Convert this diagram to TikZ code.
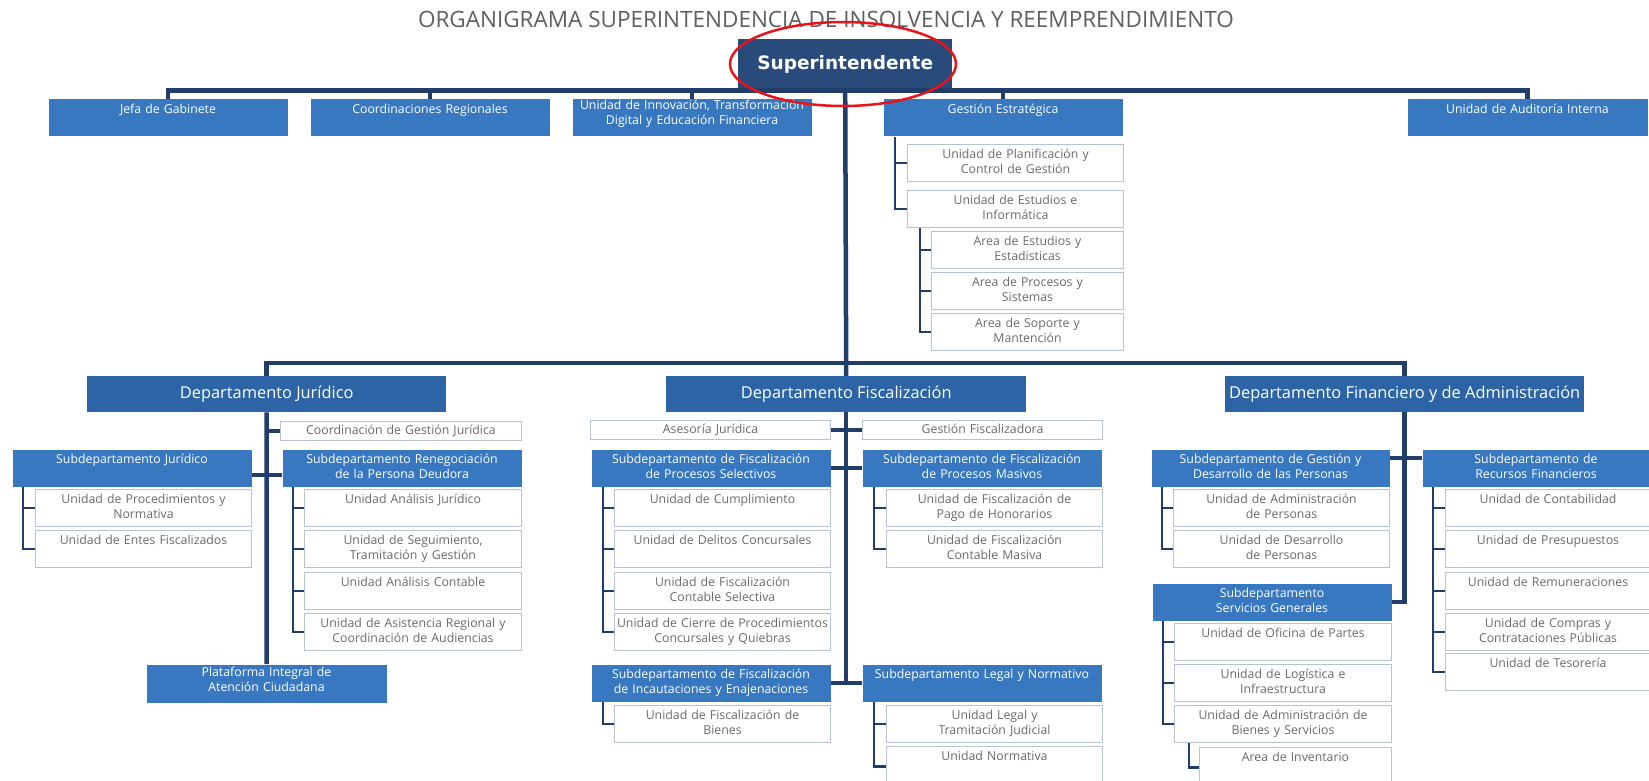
\documentclass[tikz,border=0pt]{standalone}
\usepackage{fontspec}
\setmainfont{Open Sans}
\newfontfamily\headfont{DejaVu Sans}
\definecolor{navy}{HTML}{213E6B}
\definecolor{supblue}{HTML}{284B7C}
\definecolor{deptblue}{HTML}{2D64A6}
\definecolor{subblue}{HTML}{3878C0}
\definecolor{boxline}{HTML}{B8C2CE}
\definecolor{txtgray}{HTML}{6A6A6A}
\definecolor{titlegray}{HTML}{606060}
\definecolor{ringred}{HTML}{E8141B}

\begin{document}
\begin{tikzpicture}[x=1pt,y=-1pt,
ubox/.style={draw=boxline,line width=1pt,fill=white,text=txtgray,anchor=north west,inner sep=0pt,align=center,text width=#1,text height=14pt,text depth=23pt,font=\fontsize{12.3}{15}\selectfont},
sbox/.style={ubox=#1,draw=none,fill=subblue,text=white},
dbox/.style={fill=deptblue,text=white,anchor=north west,inner sep=0pt,minimum width=#1,minimum height=36pt,font=\fontsize{16.4}{20}\selectfont},
slim/.style={text height=13pt,text depth=6pt},
bar/.style={draw=navy,line width=4.5pt},
tie/.style={draw=navy,line width=2.5pt}]
\useasboundingbox[fill=white] (0,0) rectangle (1649,781);
\node[font=\fontsize{22.5}{26}\selectfont,text=titlegray] (title) at (826,19) {ORGANIGRAMA SUPERINTENDENCIA DE INSOLVENCIA Y REEMPRENDIMIENTO};
\node[dbox=214,fill=supblue,minimum height=51pt,font=\headfont\bfseries\fontsize{18.5}{22}\selectfont] (sup) at (738,39) {Superintendente};
% primera linea
\node[sbox=239] (jefa) at (48,99) {Jefa de Gabinete};
\node[sbox=239] (coord) at (310,99) {Coordinaciones Regionales};
\node[sbox=239,text height=10pt,text depth=27pt] (innov) at (572,99) {Unidad de Innovación, Transformación\\Digital y Educación Financiera};
\node[sbox=239] (gest) at (883,99) {Gestión Estratégica};
\node[sbox=240] (audit) at (1407,99) {Unidad de Auditoría Interna};
\node[ubox=216] (upcg) at (907,144) {Unidad de Planificación y\\Control de Gestión};
\node[ubox=216] (uei) at (907,190) {Unidad de Estudios e\\Informática};
\node[ubox=192] (aee) at (931,231) {Area de Estudios y\\Estadisticas};
\node[ubox=192] (aps) at (931,272) {Area de Procesos y\\Sistemas};
\node[ubox=192] (asm) at (931,313) {Area de Soporte y\\Mantención};
% departamentos
\coordinate (lvl2) at (845,363);
\node[dbox=359] (djur) at (87,376) {Departamento Jurídico};
\node[dbox=360] (dfis) at (666,376) {Departamento Fiscalización};
\node[dbox=359] (dfin) at (1225,376) {Departamento Financiero y de Administración};
% juridico
\node[ubox=241,slim] (cgj) at (280,421) {Coordinación de Gestión Jurídica};
\node[sbox=239] (sjur) at (12,449) {Subdepartamento Jurídico};
\node[sbox=239] (sren) at (282,449) {Subdepartamento Renegociación\\de la Persona Deudora};
\node[ubox=216] (upn) at (35,489) {Unidad de Procedimientos y\\Normativa};
\node[ubox=216] (uef) at (35,530) {Unidad de Entes Fiscalizados};
\node[ubox=217] (uaj) at (304,489) {Unidad Análisis Jurídico};
\node[ubox=217] (ustg) at (304,530) {Unidad de Seguimiento,\\Tramitación y Gestión};
\node[ubox=217] (uac) at (304,572) {Unidad Análisis Contable};
\node[ubox=217] (uarc) at (304,613) {Unidad de Asistencia Regional y\\Coordinación de Audiencias};
\node[sbox=240,text height=12pt,text depth=26pt] (plat) at (146,664) {Plataforma Integral de\\Atención Ciudadana};
% fiscalizacion
\node[ubox=240,slim] (asj) at (590,420) {Asesoría Jurídica};
\node[ubox=240,slim] (gfis) at (862,420) {Gestión Fiscalizadora};
\node[sbox=239] (sfps) at (591,449) {Subdepartamento de Fiscalización\\de Procesos Selectivos};
\node[sbox=239] (sfpm) at (862,449) {Subdepartamento de Fiscalización\\de Procesos Masivos};
\node[ubox=216] (ucum) at (614,489) {Unidad de Cumplimiento};
\node[ubox=216] (udc) at (614,530) {Unidad de Delitos Concursales};
\node[ubox=216] (ufcs) at (614,572) {Unidad de Fiscalización\\Contable Selectiva};
\node[ubox=216] (ucpc) at (614,613) {Unidad de Cierre de Procedimientos\\Concursales y Quiebras};
\node[ubox=216] (ufph) at (886,489) {Unidad de Fiscalización de\\Pago de Honorarios};
\node[ubox=216] (ufcm) at (886,530) {Unidad de Fiscalización\\Contable Masiva};
\node[sbox=239] (sfie) at (591,664) {Subdepartamento de Fiscalización\\de Incautaciones y Enajenaciones};
\node[sbox=239] (sln) at (862,664) {Subdepartamento Legal y Normativo};
\node[ubox=216] (ufb) at (614,705) {Unidad de Fiscalización de\\Bienes};
\node[ubox=216] (ultj) at (886,705) {Unidad Legal y\\Tramitación Judicial};
\node[ubox=216,text depth=26pt] (unor) at (886,746) {Unidad Normativa};
% financiero
\node[sbox=238] (sgdp) at (1151,449) {Subdepartamento de Gestión y\\Desarrollo de las Personas};
\node[sbox=227] (srf) at (1422,449) {Subdepartamento de\\Recursos Financieros};
\node[ubox=216] (uap) at (1173,489) {Unidad de Administración\\de Personas};
\node[ubox=216] (udp) at (1173,530) {Unidad de Desarrollo\\de Personas};
\node[sbox=239] (sgen) at (1152,583) {Subdepartamento\\Servicios Generales};
\node[ubox=217] (uop) at (1174,623) {Unidad de Oficina de Partes};
\node[ubox=217] (uli) at (1174,664) {Unidad de Logística e\\Infraestructura};
\node[ubox=217] (uabs) at (1174,705) {Unidad de Administración de\\Bienes y Servicios};
\node[ubox=192,text depth=26pt] (ainv) at (1199,747) {Area de Inventario};
\node[ubox=205] (ucon) at (1445,489) {Unidad de Contabilidad};
\node[ubox=205] (upre) at (1445,530) {Unidad de Presupuestos};
\node[ubox=205] (urem) at (1445,572) {Unidad de Remuneraciones};
\node[ubox=205] (ucc) at (1445,613) {Unidad de Compras y\\Contrataciones Públicas};
\node[ubox=205] (utes) at (1445,653) {Unidad de Tesorería};
% conectores
\draw[bar] (jefa.north) -- (jefa.north |- sup.south) -- (audit.north |- sup.south) -- (audit.north);
\foreach \n in {coord,innov,gest} \draw[bar] (\n.north) -- (\n.north |- sup.south);
\draw[bar] (sup.south) -- (dfis.north);
\draw[bar] (djur.north) -- (djur.north |- lvl2) -- (dfin.north |- lvl2) -- (dfin.north);
\draw[bar] (djur.south) -- (plat.north);
\draw[bar] (cgj.west) -- (cgj.west -| djur.south);
\draw[bar] ([yshift=12pt]sjur.south east) -- ([yshift=12pt]sren.south west);
\draw[bar] (asj.east) -- (gfis.west);
\draw[bar] (sfps.east) -- (sfpm.west);
\draw[bar] (dfis.south) -- (dfis.south |- sfie.east);
\draw[bar] (sfie.east) -- (sln.west);
\draw[bar] (dfin.south) -- (dfin.south |- sgen.east) -- (sgen.east);
\draw[bar] ([yshift=-9pt]sgdp.north east) -- ([yshift=-9pt]srf.north west);
\foreach \c in {upcg,uei} \draw[tie] ([xshift=12pt]gest.south west) |- (\c.west);
\foreach \c in {aee,aps,asm} \draw[tie] ([xshift=13pt]uei.south west) |- (\c.west);
\foreach \c in {upn,uef} \draw[tie] ([xshift=11pt]sjur.south west) |- (\c.west);
\foreach \c in {uaj,ustg,uac,uarc} \draw[tie] ([xshift=11pt]sren.south west) |- (\c.west);
\foreach \c in {ucum,udc,ufcs,ucpc} \draw[tie] ([xshift=12pt]sfps.south west) |- (\c.west);
\foreach \c in {ufph,ufcm} \draw[tie] ([xshift=12pt]sfpm.south west) |- (\c.west);
\draw[tie] ([xshift=12pt]sfie.south west) |- (ufb.west);
\foreach \c in {ultj,unor} \draw[tie] ([xshift=12pt]sln.south west) |- (\c.west);
\foreach \c in {uap,udp} \draw[tie] ([xshift=11pt]sgdp.south west) |- (\c.west);
\foreach \c in {uop,uli,uabs} \draw[tie] ([xshift=11pt]sgen.south west) |- (\c.west);
\draw[tie] ([xshift=15pt]uabs.south west) |- (ainv.west);
\foreach \c in {ucon,upre,urem,ucc,utes} \draw[tie] ([xshift=11pt]srf.south west) |- (\c.west);
% marca
\draw[ringred,line width=2.5pt] (843,64) ellipse [x radius=113,y radius=42];
\end{tikzpicture}
\end{document}
